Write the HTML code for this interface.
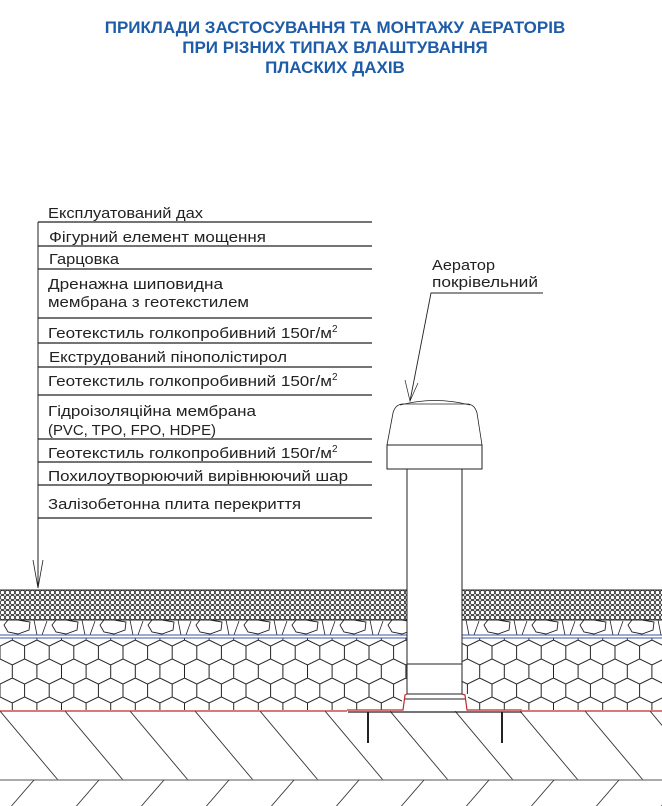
<!DOCTYPE html>
<html><head><meta charset="utf-8"><style>
html,body{margin:0;padding:0;background:#fff;}
svg{display:block;}
.t{font-family:"Liberation Sans","DejaVu Sans",sans-serif;font-size:14.5px;fill:#222;}
.h{font-family:"Liberation Sans",sans-serif;font-size:17px;font-weight:bold;fill:#1f5ca8;text-anchor:middle;}
</style></head><body>
<svg width="662" height="806" viewBox="0 0 662 806" xmlns="http://www.w3.org/2000/svg">
<defs>
<pattern id="pav" x="0" y="590" width="5" height="5" patternUnits="userSpaceOnUse">
<circle cx="2.5" cy="2.5" r="2.2" fill="none" stroke="#222" stroke-width="0.8"/>
</pattern>
<pattern id="hex" x="0" y="640" width="24.6" height="38" patternUnits="userSpaceOnUse">
<path d="M0,6 L12.3,0 L24.6,6 L24.6,19 L12.3,25 L0,19 Z M12.3,25 L12.3,38" fill="none" stroke="#222" stroke-width="1"/>
</pattern>
<pattern id="stone" x="0" y="620" width="48" height="16" patternUnits="userSpaceOnUse">
<path d="M8,0 L18,0 L30,2 L29,10 L18,14 L8,12 L4,5 Z" fill="none" stroke="#222" stroke-width="0.9"/>
<path d="M34,0 L37,15 M42,15 L47,1" fill="none" stroke="#222" stroke-width="0.8"/>
</pattern>
<pattern id="conc" x="0" y="711" width="65" height="69" patternUnits="userSpaceOnUse">
<line x1="0" y1="0" x2="58" y2="69" stroke="#333" stroke-width="0.9"/>
<line x1="-65" y1="0" x2="-7" y2="69" stroke="#333" stroke-width="0.9"/>
</pattern>
<pattern id="bot" x="8" y="780" width="65" height="30" patternUnits="userSpaceOnUse">
<line x1="26" y1="0" x2="0" y2="30" stroke="#333" stroke-width="0.9"/>
</pattern>
</defs>

<text class="h" x="335" y="33">ПРИКЛАДИ ЗАСТОСУВАННЯ ТА МОНТАЖУ АЕРАТОРІВ</text>
<text class="h" x="335" y="53">ПРИ РІЗНИХ ТИПАХ ВЛАШТУВАННЯ</text>
<text class="h" x="335" y="73">ПЛАСКИХ ДАХІВ</text>

<g stroke="#222" stroke-width="1.2">
<line x1="38" y1="222" x2="372" y2="222"/>
<line x1="38" y1="246" x2="372" y2="246"/>
<line x1="38" y1="269" x2="372" y2="269"/>
<line x1="38" y1="318" x2="372" y2="318"/>
<line x1="38" y1="343" x2="372" y2="343"/>
<line x1="38" y1="367" x2="372" y2="367"/>
<line x1="38" y1="395" x2="372" y2="395"/>
<line x1="38" y1="439" x2="372" y2="439"/>
<line x1="38" y1="462" x2="372" y2="462"/>
<line x1="38" y1="485" x2="372" y2="485"/>
<line x1="38" y1="518" x2="372" y2="518"/>
<line x1="38" y1="222" x2="38" y2="588" stroke-width="1"/>
</g>
<path d="M33,560 L38,588 L43,560" fill="none" stroke="#222" stroke-width="0.8"/>
<text class="t" x="48" y="218" textLength="155" lengthAdjust="spacingAndGlyphs">Експлуатований дах</text>
<text class="t" x="49" y="242" textLength="217" lengthAdjust="spacingAndGlyphs">Фігурний елемент мощення</text>
<text class="t" x="49" y="264" textLength="70" lengthAdjust="spacingAndGlyphs">Гарцовка</text>
<text class="t" x="48" y="289" textLength="175" lengthAdjust="spacingAndGlyphs">Дренажна шиповидна</text>
<text class="t" x="48" y="307" textLength="201" lengthAdjust="spacingAndGlyphs">мембрана з геотекстилем</text>
<text class="t" x="48" y="338"><tspan textLength="284" lengthAdjust="spacingAndGlyphs">Геотекстиль голкопробивний  150г/м</tspan><tspan dy="-6" font-size="10">2</tspan></text>
<text class="t" x="49" y="362" textLength="238" lengthAdjust="spacingAndGlyphs">Екструдований пінополістирол</text>
<text class="t" x="48" y="386"><tspan textLength="284" lengthAdjust="spacingAndGlyphs">Геотекстиль голкопробивний  150г/м</tspan><tspan dy="-6" font-size="10">2</tspan></text>
<text class="t" x="48" y="416" textLength="208" lengthAdjust="spacingAndGlyphs">Гідроізоляційна мембрана</text>
<text class="t" x="48" y="435" textLength="168" lengthAdjust="spacingAndGlyphs">(PVC, TPO, FPO, HDPE)</text>
<text class="t" x="48" y="458"><tspan textLength="284" lengthAdjust="spacingAndGlyphs">Геотекстиль голкопробивний  150г/м</tspan><tspan dy="-6" font-size="10">2</tspan></text>
<text class="t" x="48" y="481" textLength="300" lengthAdjust="spacingAndGlyphs">Похилоутворюючий вирівнюючий шар</text>
<text class="t" x="48" y="509" textLength="253" lengthAdjust="spacingAndGlyphs">Залізобетонна плита перекриття</text>

<text class="t" x="432" y="270" textLength="63" lengthAdjust="spacingAndGlyphs">Аератор</text>
<text class="t" x="432" y="287" textLength="106" lengthAdjust="spacingAndGlyphs">покрівельний</text>
<path d="M543,293 L431,293 L410,401" fill="none" stroke="#222" stroke-width="0.9"/>
<path d="M405,380 L410,401 L418,383" fill="none" stroke="#222" stroke-width="0.7"/>

<rect x="0" y="590" width="407" height="30" fill="url(#pav)"/>
<rect x="462" y="590" width="200" height="30" fill="url(#pav)"/>
<line x1="0" y1="590" x2="407" y2="590" stroke="#222"/>
<line x1="462" y1="590" x2="662" y2="590" stroke="#222"/>
<line x1="0" y1="620" x2="407" y2="620" stroke="#222"/>
<line x1="462" y1="620" x2="662" y2="620" stroke="#222"/>
<rect x="0" y="620" width="407" height="15" fill="url(#stone)"/>
<rect x="462" y="620" width="200" height="15" fill="url(#stone)"/>
<rect x="0" y="638" width="407" height="72" fill="url(#hex)"/>
<rect x="462" y="638" width="200" height="72" fill="url(#hex)"/>
<g stroke="#3a55a8" stroke-width="1">
<line x1="0" y1="635" x2="407" y2="635"/><line x1="0" y1="638" x2="407" y2="638"/>
<line x1="462" y1="635" x2="662" y2="635"/><line x1="462" y1="638" x2="662" y2="638"/>
</g>
<rect x="0" y="711" width="662" height="69" fill="url(#conc)"/>
<line x1="0" y1="780" x2="662" y2="780" stroke="#777" stroke-width="1.2"/>
<rect x="0" y="780" width="662" height="26" fill="url(#bot)"/>

<rect x="402" y="694" width="66" height="17" fill="#fff"/>
<rect x="407" y="590" width="55" height="121" fill="#fff"/>
<g fill="none" stroke="#222" stroke-width="1">
<line x1="407" y1="469" x2="407" y2="694"/>
<line x1="462" y1="469" x2="462" y2="694"/>
<line x1="407" y1="664" x2="462" y2="664"/>
<line x1="407" y1="694" x2="462" y2="694"/>
<line x1="404" y1="699" x2="465" y2="699"/>
<rect x="387" y="445" width="95" height="24"/>
<path d="M387,445 L393,413 Q395,405 402,404 L468,404 Q475,405 477,413 L482,445" stroke-width="0.8"/>
<path d="M400,405 Q435,396 470,405" stroke-width="0.8"/>
</g>
<g fill="none" stroke="#c0282a" stroke-width="1.2">
<line x1="0" y1="711" x2="347" y2="711"/>
<line x1="522" y1="711" x2="662" y2="711"/>
<path d="M347,710 L403,710 L405,695 L407,694 M462,694 L465,695 L467,710 L522,710"/>
</g>
<line x1="348" y1="712" x2="522" y2="712" stroke="#222" stroke-width="1.2"/>
<line x1="368" y1="712" x2="368" y2="743" stroke="#222" stroke-width="2"/>
<line x1="502" y1="712" x2="502" y2="743" stroke="#222" stroke-width="2"/>
</svg>
</body></html>
